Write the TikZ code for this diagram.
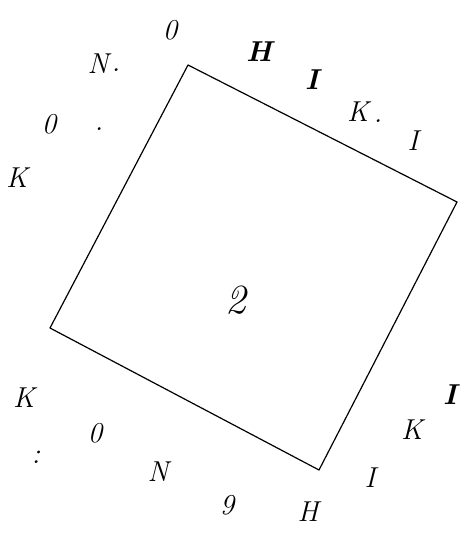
\documentclass[tikz,border=0pt]{standalone}
\usepackage{tikz}
\begin{document}
\begin{tikzpicture}[
  x=0.5pt, y=-0.5pt,
  lbl/.style={font=\Large\itshape, inner sep=0pt},
  heavy/.style={font=\Large\bfseries\itshape, inner sep=0pt},
  side/.style={line width=0.6pt, line join=round}
]
\useasboundingbox (0,0) rectangle (471,539);
% corners of the square
\coordinate (top) at (188,65);
\coordinate (rgt) at (457,202);
\coordinate (bot) at (319,470);
\coordinate (lft) at (50,328);
\draw[side] (top) -- (rgt) -- (bot) -- (lft) -- cycle;
\node[font=\huge\itshape, inner sep=0pt] (two) at (236,300) {2};
% upper left
\node[lbl] (k1) at (17,178) {K};
\node[lbl] (o1) at (49,124) {0};
\node[lbl] (d1) at (99,129) {.};
\node[lbl] (n1) at (98,64) {N};
\node[lbl] (d2) at (116,70) {.};
\node[lbl] (o2) at (170,30) {0};
% upper right
\node[heavy] (h1) at (259,52) {H};
\node[heavy] (i1) at (312,80) {I};
\node[lbl] (k2) at (358,112) {K};
\node[lbl] (d3) at (378,121) {.};
\node[lbl] (i2) at (413,141) {I};
% lower left
\node[lbl] (k3) at (24,398) {K};
\node[lbl] (o3) at (95,433) {0};
\node[lbl] (c1) at (36,457) {:};
\node[lbl] (n2) at (158,472) {N};
\node[lbl] (q1) at (227,505) {9};
% lower right
\node[lbl] (h2) at (308,512) {H};
\node[lbl] (i3) at (370,478) {I};
\node[lbl] (k4) at (412,430) {K};
\node[heavy] (i4) at (450,395) {I};
\end{tikzpicture}
\end{document}
